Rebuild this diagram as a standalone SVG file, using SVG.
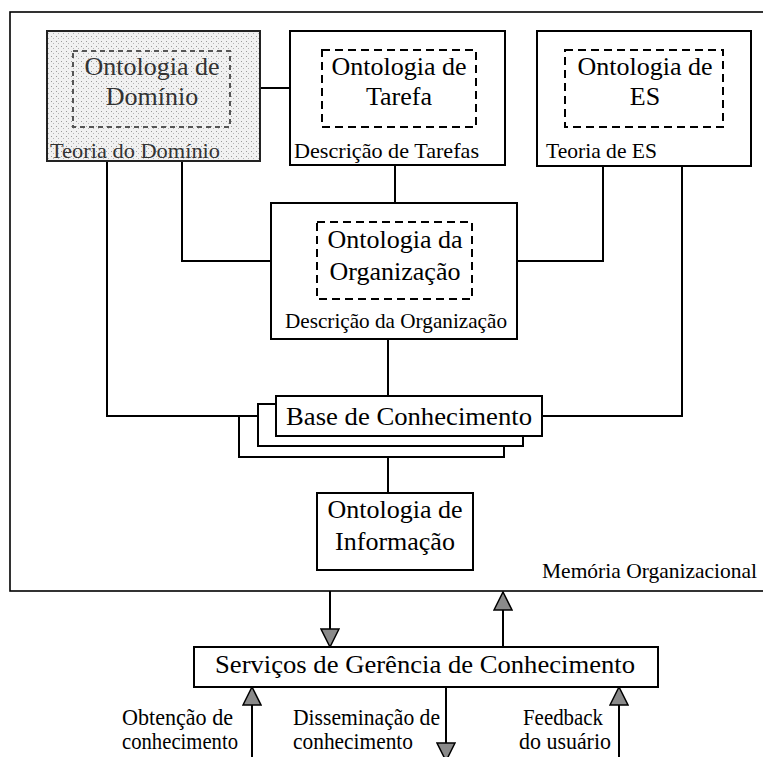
<svg xmlns="http://www.w3.org/2000/svg" width="763" height="757" viewBox="0 0 763 757">
<defs>
<style>
.box{fill:#fff;stroke:#000;stroke-width:2}
.dash{fill:none;stroke:#000;stroke-width:2;stroke-dasharray:8 5}
.ln{fill:none;stroke:#000;stroke-width:2}
.t{font-family:"Liberation Serif","Times New Roman",serif;font-size:26px;fill:#000;text-anchor:middle}
.s{font-family:"Liberation Serif","Times New Roman",serif;font-size:21px;fill:#000}
.b{font-family:"Liberation Serif","Times New Roman",serif;font-size:23px;fill:#000}
</style>
<pattern id="stip" width="5" height="5" patternUnits="userSpaceOnUse">
<rect width="5" height="5" fill="#f1f1f1"/>
<rect x="1" y="1" width="1" height="1" fill="#9a9a9a"/>
<rect x="3" y="3" width="1" height="1" fill="#b5b5b5"/>
</pattern>
<marker id="ah" markerUnits="userSpaceOnUse" markerWidth="20" markerHeight="20" viewBox="0 0 20 20" refX="19" refY="10" orient="auto">
<path d="M1,1 L19,10 L1,19 Z" fill="#8a8a8a" stroke="#000" stroke-width="1.5"/>
</marker>
</defs>

<g id="memoria">
<rect x="10" y="12" width="780" height="579" fill="none" stroke="#000" stroke-width="1.6"/>
<text class="s" x="542" y="578" textLength="215" lengthAdjust="spacingAndGlyphs">Memória Organizacional</text>
</g>

<g id="connectors">
<line class="ln" x1="260" y1="88" x2="290" y2="88"/>
<polyline class="ln" points="107,161 107,416 239,416"/>
<polyline class="ln" points="182,161 182,261 271,261"/>
<line class="ln" x1="395" y1="165" x2="395" y2="203"/>
<polyline class="ln" points="603,166 603,261 517,261"/>
<polyline class="ln" points="682,166 682,416 542,416"/>
<line class="ln" x1="388" y1="339" x2="388" y2="396"/>
<line class="ln" x1="388" y1="457" x2="388" y2="493"/>
<line class="ln" x1="330" y1="591" x2="330" y2="647" marker-end="url(#ah)"/>
<line class="ln" x1="503" y1="647" x2="503" y2="592" marker-end="url(#ah)"/>
<line class="ln" x1="252" y1="757" x2="252" y2="687" marker-end="url(#ah)"/>
<line class="ln" x1="446" y1="687" x2="446" y2="761" marker-end="url(#ah)"/>
<line class="ln" x1="619" y1="757" x2="619" y2="687" marker-end="url(#ah)"/>
</g>

<g id="dominio">
<rect x="47" y="31" width="213" height="130" fill="url(#stip)" stroke="#222" stroke-width="2"/>
<rect x="73" y="51" width="157" height="76" fill="none" stroke="#555" stroke-width="2" stroke-dasharray="5 4"/>
<text class="t" x="152" y="75" style="fill:#333">Ontologia de</text>
<text class="t" x="152" y="105" style="fill:#333">Domínio</text>
<text class="s" x="50" y="158" textLength="170" lengthAdjust="spacingAndGlyphs" style="fill:#333">Teoria do Domínio</text>
</g>

<g id="tarefa">
<rect class="box" x="290" y="31" width="215" height="134"/>
<rect class="dash" x="322" y="50" width="154" height="77"/>
<text class="t" x="399" y="75">Ontologia de</text>
<text class="t" x="399" y="105">Tarefa</text>
<text class="s" x="294" y="158" textLength="185" lengthAdjust="spacingAndGlyphs">Descrição de Tarefas</text>
</g>

<g id="es">
<rect class="box" x="537" y="31" width="214" height="135"/>
<rect class="dash" x="565" y="50" width="158" height="77"/>
<text class="t" x="645" y="75">Ontologia de</text>
<text class="t" x="645" y="105">ES</text>
<text class="s" x="546" y="158" textLength="111" lengthAdjust="spacingAndGlyphs">Teoria de ES</text>
</g>

<g id="organizacao">
<rect class="box" x="271" y="203" width="246" height="136"/>
<rect class="dash" x="317" y="222" width="155" height="77"/>
<text class="t" x="395" y="248">Ontologia da</text>
<text class="t" x="395" y="280">Organização</text>
<text class="s" x="285" y="328" textLength="222" lengthAdjust="spacingAndGlyphs">Descrição da Organização</text>
</g>

<g id="base">
<rect class="box" x="239" y="416" width="265" height="41" stroke-width="1.5"/>
<rect class="box" x="258" y="404" width="265" height="42" stroke-width="1.5"/>
<rect class="box" x="276" y="396" width="266" height="40"/>
<text class="t" x="409" y="425" textLength="246" lengthAdjust="spacingAndGlyphs">Base de Conhecimento</text>
</g>

<g id="informacao">
<rect class="box" x="317" y="493" width="156" height="77"/>
<text class="t" x="395" y="518">Ontologia de</text>
<text class="t" x="395" y="550">Informação</text>
</g>

<g id="servicos">
<rect class="box" x="194" y="647" width="464" height="40"/>
<text class="t" x="425" y="673" textLength="420" lengthAdjust="spacingAndGlyphs">Serviços de Gerência de Conhecimento</text>
</g>

<g id="labels">
<text class="b" x="122" y="725" textLength="111" lengthAdjust="spacingAndGlyphs">Obtenção de</text>
<text class="b" x="122" y="749" textLength="116" lengthAdjust="spacingAndGlyphs">conhecimento</text>
<text class="b" x="293" y="725" textLength="147" lengthAdjust="spacingAndGlyphs">Disseminação de</text>
<text class="b" x="293" y="749" textLength="120" lengthAdjust="spacingAndGlyphs">conhecimento</text>
<text class="b" x="523" y="725" textLength="80" lengthAdjust="spacingAndGlyphs">Feedback</text>
<text class="b" x="519" y="749" textLength="92" lengthAdjust="spacingAndGlyphs">do usuário</text>
</g>
</svg>
